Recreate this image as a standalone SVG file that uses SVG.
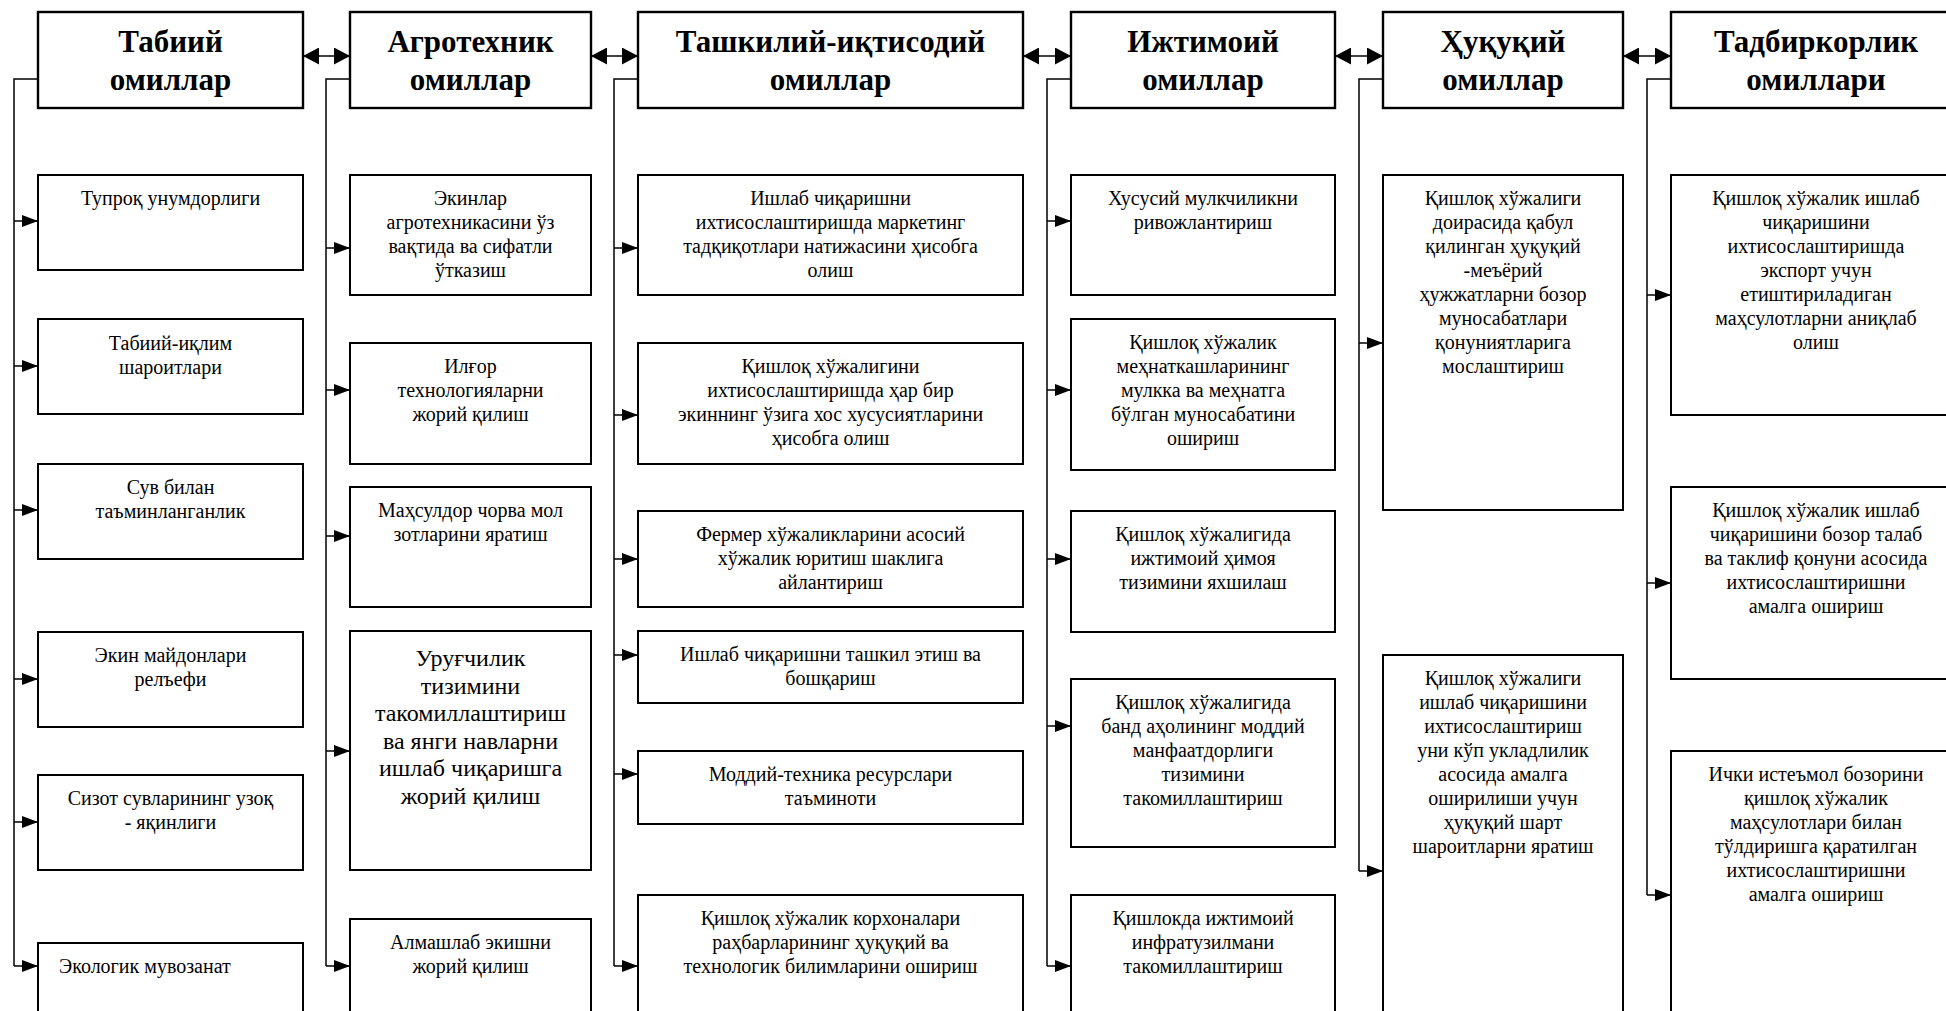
<svg xmlns="http://www.w3.org/2000/svg" width="1946" height="1011" viewBox="0 0 1946 1011">
<style>
  .hbox { fill: #fff; stroke: #000; stroke-width: 2.4; }
  .box { fill: #fff; stroke: #000; stroke-width: 2; }
  .conn { fill: none; stroke: #000; stroke-width: 1.5; }
  .h { font-family: "Liberation Serif", "Times New Roman", serif; font-weight: bold; font-size: 31px; text-anchor: middle; fill: #000; }
  .t { font-family: "Liberation Serif", "Times New Roman", serif; font-size: 20px; text-anchor: middle; fill: #000; }
  .tl { font-size: 24px; }
</style>
<defs>
  <marker id="arr" markerUnits="userSpaceOnUse" markerWidth="16" markerHeight="12" refX="16" refY="6" orient="auto">
    <path d="M0,0 L16,6 L0,12 Z" fill="#000"/>
  </marker>
  <marker id="harr" markerUnits="userSpaceOnUse" markerWidth="16" markerHeight="17" refX="16" refY="8.5" orient="auto-start-reverse">
    <path d="M0,0 L16,8.5 L0,17 Z" fill="#000"/>
  </marker>
</defs>
<rect width="1946" height="1011" fill="#fff"/>

<g id="connectors">
  <!-- header double arrows -->
  <path class="conn" d="M303,56 H350" marker-start="url(#harr)" marker-end="url(#harr)"/>
  <path class="conn" d="M591,56 H638" marker-start="url(#harr)" marker-end="url(#harr)"/>
  <path class="conn" d="M1023,56 H1071" marker-start="url(#harr)" marker-end="url(#harr)"/>
  <path class="conn" d="M1335,56 H1383" marker-start="url(#harr)" marker-end="url(#harr)"/>
  <path class="conn" d="M1623,56 H1671" marker-start="url(#harr)" marker-end="url(#harr)"/>
  <!-- column 1 -->
  <path class="conn" d="M38,79 H14 V966"/>
  <path class="conn" d="M14,221 H38" marker-end="url(#arr)"/>
  <path class="conn" d="M14,366 H38" marker-end="url(#arr)"/>
  <path class="conn" d="M14,510 H38" marker-end="url(#arr)"/>
  <path class="conn" d="M14,679 H38" marker-end="url(#arr)"/>
  <path class="conn" d="M14,822 H38" marker-end="url(#arr)"/>
  <path class="conn" d="M14,966 H38" marker-end="url(#arr)"/>
  <!-- column 2 -->
  <path class="conn" d="M350,79 H326 V966"/>
  <path class="conn" d="M326,248 H350" marker-end="url(#arr)"/>
  <path class="conn" d="M326,390 H350" marker-end="url(#arr)"/>
  <path class="conn" d="M326,536 H350" marker-end="url(#arr)"/>
  <path class="conn" d="M326,751 H350" marker-end="url(#arr)"/>
  <path class="conn" d="M326,966 H350" marker-end="url(#arr)"/>
  <!-- column 3 -->
  <path class="conn" d="M638,79 H614 V966"/>
  <path class="conn" d="M614,248 H638" marker-end="url(#arr)"/>
  <path class="conn" d="M614,415 H638" marker-end="url(#arr)"/>
  <path class="conn" d="M614,559 H638" marker-end="url(#arr)"/>
  <path class="conn" d="M614,655 H638" marker-end="url(#arr)"/>
  <path class="conn" d="M614,774 H638" marker-end="url(#arr)"/>
  <path class="conn" d="M614,966 H638" marker-end="url(#arr)"/>
  <!-- column 4 -->
  <path class="conn" d="M1071,79 H1047 V966"/>
  <path class="conn" d="M1047,221 H1071" marker-end="url(#arr)"/>
  <path class="conn" d="M1047,390 H1071" marker-end="url(#arr)"/>
  <path class="conn" d="M1047,559 H1071" marker-end="url(#arr)"/>
  <path class="conn" d="M1047,726 H1071" marker-end="url(#arr)"/>
  <path class="conn" d="M1047,966 H1071" marker-end="url(#arr)"/>
  <!-- column 5 -->
  <path class="conn" d="M1383,79 H1359 V871"/>
  <path class="conn" d="M1359,343 H1383" marker-end="url(#arr)"/>
  <path class="conn" d="M1359,871 H1383" marker-end="url(#arr)"/>
  <!-- column 6 -->
  <path class="conn" d="M1671,79 H1647 V895"/>
  <path class="conn" d="M1647,295 H1671" marker-end="url(#arr)"/>
  <path class="conn" d="M1647,583 H1671" marker-end="url(#arr)"/>
  <path class="conn" d="M1647,895 H1671" marker-end="url(#arr)"/>
</g>

<!-- headers -->
<g id="h1"><rect class="hbox" x="38" y="12" width="265" height="96"/><text class="h"><tspan x="170.5" y="52">Табиий</tspan><tspan x="170.5" y="90">омиллар</tspan></text></g>
<g id="h2"><rect class="hbox" x="350" y="12" width="241" height="96"/><text class="h"><tspan x="470.5" y="52">Агротехник</tspan><tspan x="470.5" y="90">омиллар</tspan></text></g>
<g id="h3"><rect class="hbox" x="638" y="12" width="385" height="96"/><text class="h"><tspan x="830.5" y="52">Ташкилий-иқтисодий</tspan><tspan x="830.5" y="90">омиллар</tspan></text></g>
<g id="h4"><rect class="hbox" x="1071" y="12" width="264" height="96"/><text class="h"><tspan x="1203" y="52">Ижтимоий</tspan><tspan x="1203" y="90">омиллар</tspan></text></g>
<g id="h5"><rect class="hbox" x="1383" y="12" width="240" height="96"/><text class="h"><tspan x="1503" y="52">Ҳуқуқий</tspan><tspan x="1503" y="90">омиллар</tspan></text></g>
<g id="h6"><rect class="hbox" x="1671" y="12" width="290" height="96"/><text class="h"><tspan x="1816" y="52">Тадбиркорлик</tspan><tspan x="1816" y="90">омиллари</tspan></text></g>

<!-- column 1 -->
<g id="c1n1"><rect class="box" x="38" y="175" width="265" height="95"/><text class="t"><tspan x="170.5" y="205">Тупроқ унумдорлиги</tspan></text></g>
<g id="c1n2"><rect class="box" x="38" y="319" width="265" height="95"/><text class="t"><tspan x="170.5" y="350">Табиий-иқлим</tspan><tspan x="170.5" y="374">шароитлари</tspan></text></g>
<g id="c1n3"><rect class="box" x="38" y="464" width="265" height="95"/><text class="t"><tspan x="170.5" y="494">Сув билан</tspan><tspan x="170.5" y="518">таъминланганлик</tspan></text></g>
<g id="c1n4"><rect class="box" x="38" y="632" width="265" height="95"/><text class="t"><tspan x="170.5" y="662">Экин майдонлари</tspan><tspan x="170.5" y="686">релъефи</tspan></text></g>
<g id="c1n5"><rect class="box" x="38" y="775" width="265" height="95"/><text class="t"><tspan x="170.5" y="805">Сизот сувларининг узоқ</tspan><tspan x="170.5" y="829">- яқинлиги</tspan></text></g>
<g id="c1n6"><rect class="box" x="38" y="943" width="265" height="90"/><text class="t" style="text-anchor:start"><tspan x="59" y="973">Экологик мувозанат</tspan></text></g>

<!-- column 2 -->
<g id="c2n1"><rect class="box" x="350" y="175" width="241" height="120"/><text class="t"><tspan x="470.5" y="205">Экинлар</tspan><tspan x="470.5" y="229">агротехникасини ўз</tspan><tspan x="470.5" y="253">вақтида ва сифатли</tspan><tspan x="470.5" y="277">ўтказиш</tspan></text></g>
<g id="c2n2"><rect class="box" x="350" y="343" width="241" height="121"/><text class="t"><tspan x="470.5" y="373">Илғор</tspan><tspan x="470.5" y="397">технологияларни</tspan><tspan x="470.5" y="421">жорий қилиш</tspan></text></g>
<g id="c2n3"><rect class="box" x="350" y="487" width="241" height="120"/><text class="t"><tspan x="470.5" y="517">Маҳсулдор чорва мол</tspan><tspan x="470.5" y="541">зотларини  яратиш</tspan></text></g>
<g id="c2n4"><rect class="box" x="350" y="631" width="241" height="239"/><text class="t tl"><tspan x="470.5" y="666">Уруғчилик</tspan><tspan x="470.5" y="693.5">тизимини</tspan><tspan x="470.5" y="721">такомиллаштириш</tspan><tspan x="470.5" y="748.5">ва янги навларни</tspan><tspan x="470.5" y="776">ишлаб чиқаришга</tspan><tspan x="470.5" y="803.5">жорий қилиш</tspan></text></g>
<g id="c2n5"><rect class="box" x="350" y="919" width="241" height="110"/><text class="t"><tspan x="470.5" y="949">Алмашлаб экишни</tspan><tspan x="470.5" y="973">жорий қилиш</tspan></text></g>

<!-- column 3 -->
<g id="c3n1"><rect class="box" x="638" y="175" width="385" height="120"/><text class="t"><tspan x="830.5" y="205">Ишлаб чиқаришни</tspan><tspan x="830.5" y="229">ихтисослаштиришда маркетинг</tspan><tspan x="830.5" y="253">тадқиқотлари натижасини ҳисобга</tspan><tspan x="830.5" y="277">олиш</tspan></text></g>
<g id="c3n2"><rect class="box" x="638" y="343" width="385" height="121"/><text class="t"><tspan x="830.5" y="373">Қишлоқ хўжалигини</tspan><tspan x="830.5" y="397">ихтисослаштиришда ҳар бир</tspan><tspan x="830.5" y="421">экиннинг ўзига  хос хусусиятларини</tspan><tspan x="830.5" y="445">ҳисобга олиш</tspan></text></g>
<g id="c3n3"><rect class="box" x="638" y="511" width="385" height="96"/><text class="t"><tspan x="830.5" y="541">Фермер хўжаликларини асосий</tspan><tspan x="830.5" y="565">хўжалик юритиш шаклига</tspan><tspan x="830.5" y="589">айлантириш</tspan></text></g>
<g id="c3n4"><rect class="box" x="638" y="631" width="385" height="72"/><text class="t"><tspan x="830.5" y="661">Ишлаб чиқаришни ташкил этиш ва</tspan><tspan x="830.5" y="685">бошқариш</tspan></text></g>
<g id="c3n5"><rect class="box" x="638" y="751" width="385" height="73"/><text class="t"><tspan x="830.5" y="781">Моддий-техника ресурслари</tspan><tspan x="830.5" y="805">таъминоти</tspan></text></g>
<g id="c3n6"><rect class="box" x="638" y="895" width="385" height="135"/><text class="t"><tspan x="830.5" y="925">Қишлоқ хўжалик корхоналари</tspan><tspan x="830.5" y="949">раҳбарларининг ҳуқуқий ва</tspan><tspan x="830.5" y="973">технологик билимларини  ошириш</tspan></text></g>

<!-- column 4 -->
<g id="c4n1"><rect class="box" x="1071" y="175" width="264" height="120"/><text class="t"><tspan x="1203" y="205">Хусусий мулкчиликни</tspan><tspan x="1203" y="229">ривожлантириш</tspan></text></g>
<g id="c4n2"><rect class="box" x="1071" y="319" width="264" height="151"/><text class="t"><tspan x="1203" y="349">Қишлоқ хўжалик</tspan><tspan x="1203" y="373">меҳнаткашларининг</tspan><tspan x="1203" y="397">мулкка ва меҳнатга</tspan><tspan x="1203" y="421">бўлган муносабатини</tspan><tspan x="1203" y="445">ошириш</tspan></text></g>
<g id="c4n3"><rect class="box" x="1071" y="511" width="264" height="121"/><text class="t"><tspan x="1203" y="541">Қишлоқ хўжалигида</tspan><tspan x="1203" y="565">ижтимоий ҳимоя</tspan><tspan x="1203" y="589">тизимини яхшилаш</tspan></text></g>
<g id="c4n4"><rect class="box" x="1071" y="679" width="264" height="168"/><text class="t"><tspan x="1203" y="709">Қишлоқ хўжалигида</tspan><tspan x="1203" y="733">банд аҳолининг моддий</tspan><tspan x="1203" y="757">манфаатдорлиги</tspan><tspan x="1203" y="781">тизимини</tspan><tspan x="1203" y="805">такомиллаштириш</tspan></text></g>
<g id="c4n5"><rect class="box" x="1071" y="895" width="264" height="135"/><text class="t"><tspan x="1203" y="925">Қишлокда ижтимоий</tspan><tspan x="1203" y="949">инфратузилмани</tspan><tspan x="1203" y="973">такомиллаштириш</tspan></text></g>

<!-- column 5 -->
<g id="c5n1"><rect class="box" x="1383" y="175" width="240" height="335"/><text class="t"><tspan x="1503" y="205">Қишлоқ хўжалиги</tspan><tspan x="1503" y="229">доирасида қабул</tspan><tspan x="1503" y="253">қилинган ҳуқуқий</tspan><tspan x="1503" y="277">-меъёрий</tspan><tspan x="1503" y="301">ҳужжатларни бозор</tspan><tspan x="1503" y="325">муносабатлари</tspan><tspan x="1503" y="349">қонуниятларига</tspan><tspan x="1503" y="373">мослаштириш</tspan></text></g>
<g id="c5n2"><rect class="box" x="1383" y="655" width="240" height="375"/><text class="t"><tspan x="1503" y="685">Қишлоқ хўжалиги</tspan><tspan x="1503" y="709">ишлаб чиқаришини</tspan><tspan x="1503" y="733">ихтисослаштириш</tspan><tspan x="1503" y="757">уни кўп укладлилик</tspan><tspan x="1503" y="781">асосида амалга</tspan><tspan x="1503" y="805">оширилиши учун</tspan><tspan x="1503" y="829">ҳуқуқий шарт</tspan><tspan x="1503" y="853">шароитларни яратиш</tspan></text></g>

<!-- column 6 -->
<g id="c6n1"><rect class="box" x="1671" y="175" width="290" height="240"/><text class="t"><tspan x="1816" y="205">Қишлоқ хўжалик ишлаб</tspan><tspan x="1816" y="229">чиқаришини</tspan><tspan x="1816" y="253">ихтисослаштиришда</tspan><tspan x="1816" y="277">экспорт учун</tspan><tspan x="1816" y="301">етиштириладиган</tspan><tspan x="1816" y="325">маҳсулотларни  аниқлаб</tspan><tspan x="1816" y="349">олиш</tspan></text></g>
<g id="c6n2"><rect class="box" x="1671" y="487" width="290" height="192"/><text class="t"><tspan x="1816" y="517">Қишлоқ хўжалик ишлаб</tspan><tspan x="1816" y="541">чиқаришини бозор талаб</tspan><tspan x="1816" y="565">ва таклиф қонуни асосида</tspan><tspan x="1816" y="589">ихтисослаштиришни</tspan><tspan x="1816" y="613">амалга ошириш</tspan></text></g>
<g id="c6n3"><rect class="box" x="1671" y="751" width="290" height="280"/><text class="t"><tspan x="1816" y="781">Ички истеъмол бозорини</tspan><tspan x="1816" y="805">қишлоқ хўжалик</tspan><tspan x="1816" y="829">маҳсулотлари билан</tspan><tspan x="1816" y="853">тўлдиришга қаратилган</tspan><tspan x="1816" y="877">ихтисослаштиришни</tspan><tspan x="1816" y="901">амалга ошириш</tspan></text></g>
</svg>
